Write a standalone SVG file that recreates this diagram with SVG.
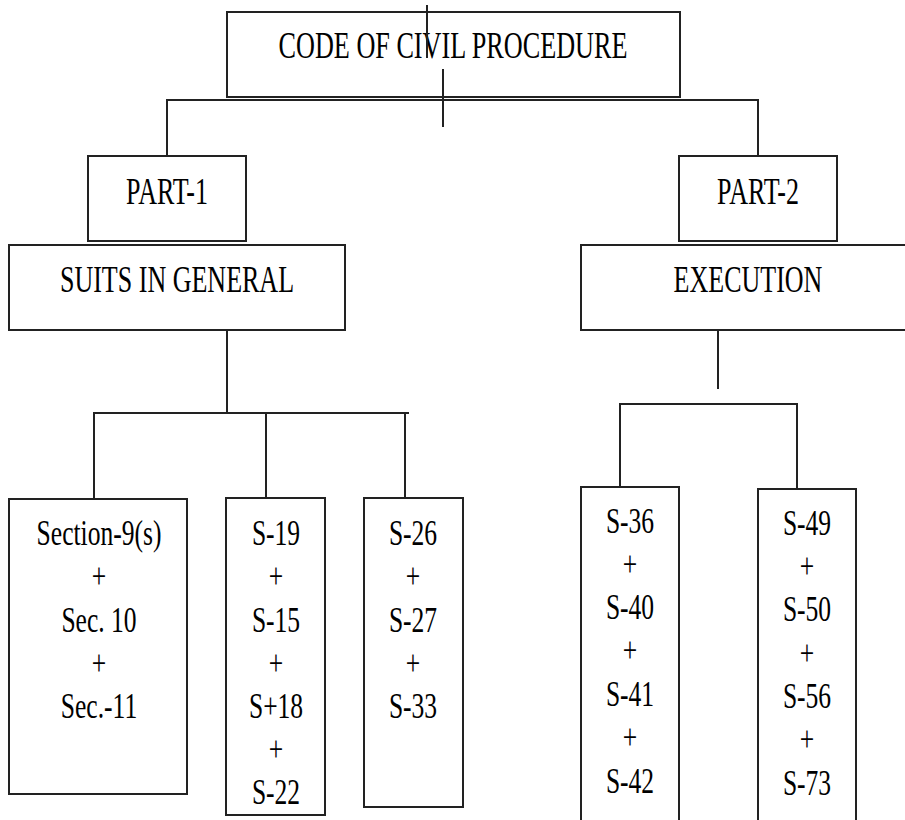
<svg xmlns="http://www.w3.org/2000/svg" width="905" height="820" viewBox="0 0 905 820">
<style>
.box{fill:#fff;stroke:#222;stroke-width:2}
.con{fill:none;stroke:#222;stroke-width:2}
.h{font-family:"Liberation Serif","Times New Roman",serif;font-size:38px;fill:#000;text-anchor:middle}
.s{font-family:"Liberation Serif","Times New Roman",serif;font-size:35px;fill:#000;text-anchor:middle}
</style>
<rect width="905" height="820" fill="#fff"/>
<g id="ccp">
<rect class="box" x="227" y="12" width="453" height="85"/>
<text class="h" transform="matrix(0.689 0 0 1 453 58)">CODE OF CIVIL PROCEDURE</text>
</g>
<g id="part1">
<rect class="box" x="88" y="156" width="158" height="85"/>
<text class="h" transform="matrix(0.685 0 0 1 167 204)">PART-1</text>
</g>
<g id="suits">
<rect class="box" x="9" y="245" width="336" height="85"/>
<text class="h" transform="matrix(0.685 0 0 1 177 292)">SUITS IN GENERAL</text>
</g>
<g id="part2">
<rect class="box" x="679" y="156" width="158" height="85"/>
<text class="h" transform="matrix(0.685 0 0 1 758 204)">PART-2</text>
</g>
<g id="execution">
<rect class="box" x="581" y="245" width="334" height="85"/>
<text class="h" transform="matrix(0.685 0 0 1 748 292)">EXECUTION</text>
</g>
<g id="box1">
<rect class="box" x="9" y="499" width="178" height="295"/>
<g transform="matrix(0.73 0 0 1 99 0)">
<text class="s" x="0" y="545">Section-9(s)</text>
<text class="s" x="0" y="588">+</text>
<text class="s" x="0" y="632">Sec. 10</text>
<text class="s" x="0" y="675">+</text>
<text class="s" x="0" y="718">Sec.-11</text>
</g>
</g>
<g id="box2">
<rect class="box" x="226" y="498" width="99" height="317"/>
<g transform="matrix(0.73 0 0 1 276 0)">
<text class="s" x="0" y="545">S-19</text>
<text class="s" x="0" y="588">+</text>
<text class="s" x="0" y="632">S-15</text>
<text class="s" x="0" y="675">+</text>
<text class="s" x="0" y="718">S+18</text>
<text class="s" x="0" y="761">+</text>
<text class="s" x="0" y="804">S-22</text>
</g>
</g>
<g id="box3">
<rect class="box" x="364" y="498" width="99" height="309"/>
<g transform="matrix(0.73 0 0 1 413 0)">
<text class="s" x="0" y="545">S-26</text>
<text class="s" x="0" y="588">+</text>
<text class="s" x="0" y="632">S-27</text>
<text class="s" x="0" y="675">+</text>
<text class="s" x="0" y="718">S-33</text>
</g>
</g>
<g id="box4">
<rect class="box" x="581" y="487" width="98" height="345"/>
<g transform="matrix(0.73 0 0 1 630 0)">
<text class="s" x="0" y="533">S-36</text>
<text class="s" x="0" y="576">+</text>
<text class="s" x="0" y="619">S-40</text>
<text class="s" x="0" y="662">+</text>
<text class="s" x="0" y="706">S-41</text>
<text class="s" x="0" y="749">+</text>
<text class="s" x="0" y="793">S-42</text>
</g>
</g>
<g id="box5">
<rect class="box" x="758" y="489" width="98" height="345"/>
<g transform="matrix(0.73 0 0 1 807 0)">
<text class="s" x="0" y="535">S-49</text>
<text class="s" x="0" y="578">+</text>
<text class="s" x="0" y="621">S-50</text>
<text class="s" x="0" y="665">+</text>
<text class="s" x="0" y="708">S-56</text>
<text class="s" x="0" y="751">+</text>
<text class="s" x="0" y="795">S-73</text>
</g>
</g>
<g id="connectors">
<line class="con" x1="427" y1="5" x2="427" y2="58"/>
<line class="con" x1="443" y1="69" x2="443" y2="127"/>
<polyline class="con" points="167,156 167,100 758,100 758,156"/>
<line class="con" x1="227" y1="330" x2="227" y2="413"/>
<polyline class="con" points="94,499 94,413 409,413"/>
<line class="con" x1="266" y1="413" x2="266" y2="498"/>
<line class="con" x1="405" y1="413" x2="405" y2="498"/>
<line class="con" x1="718" y1="330" x2="718" y2="389"/>
<polyline class="con" points="620,487 620,404 797,404 797,489"/>
</g>
</svg>
